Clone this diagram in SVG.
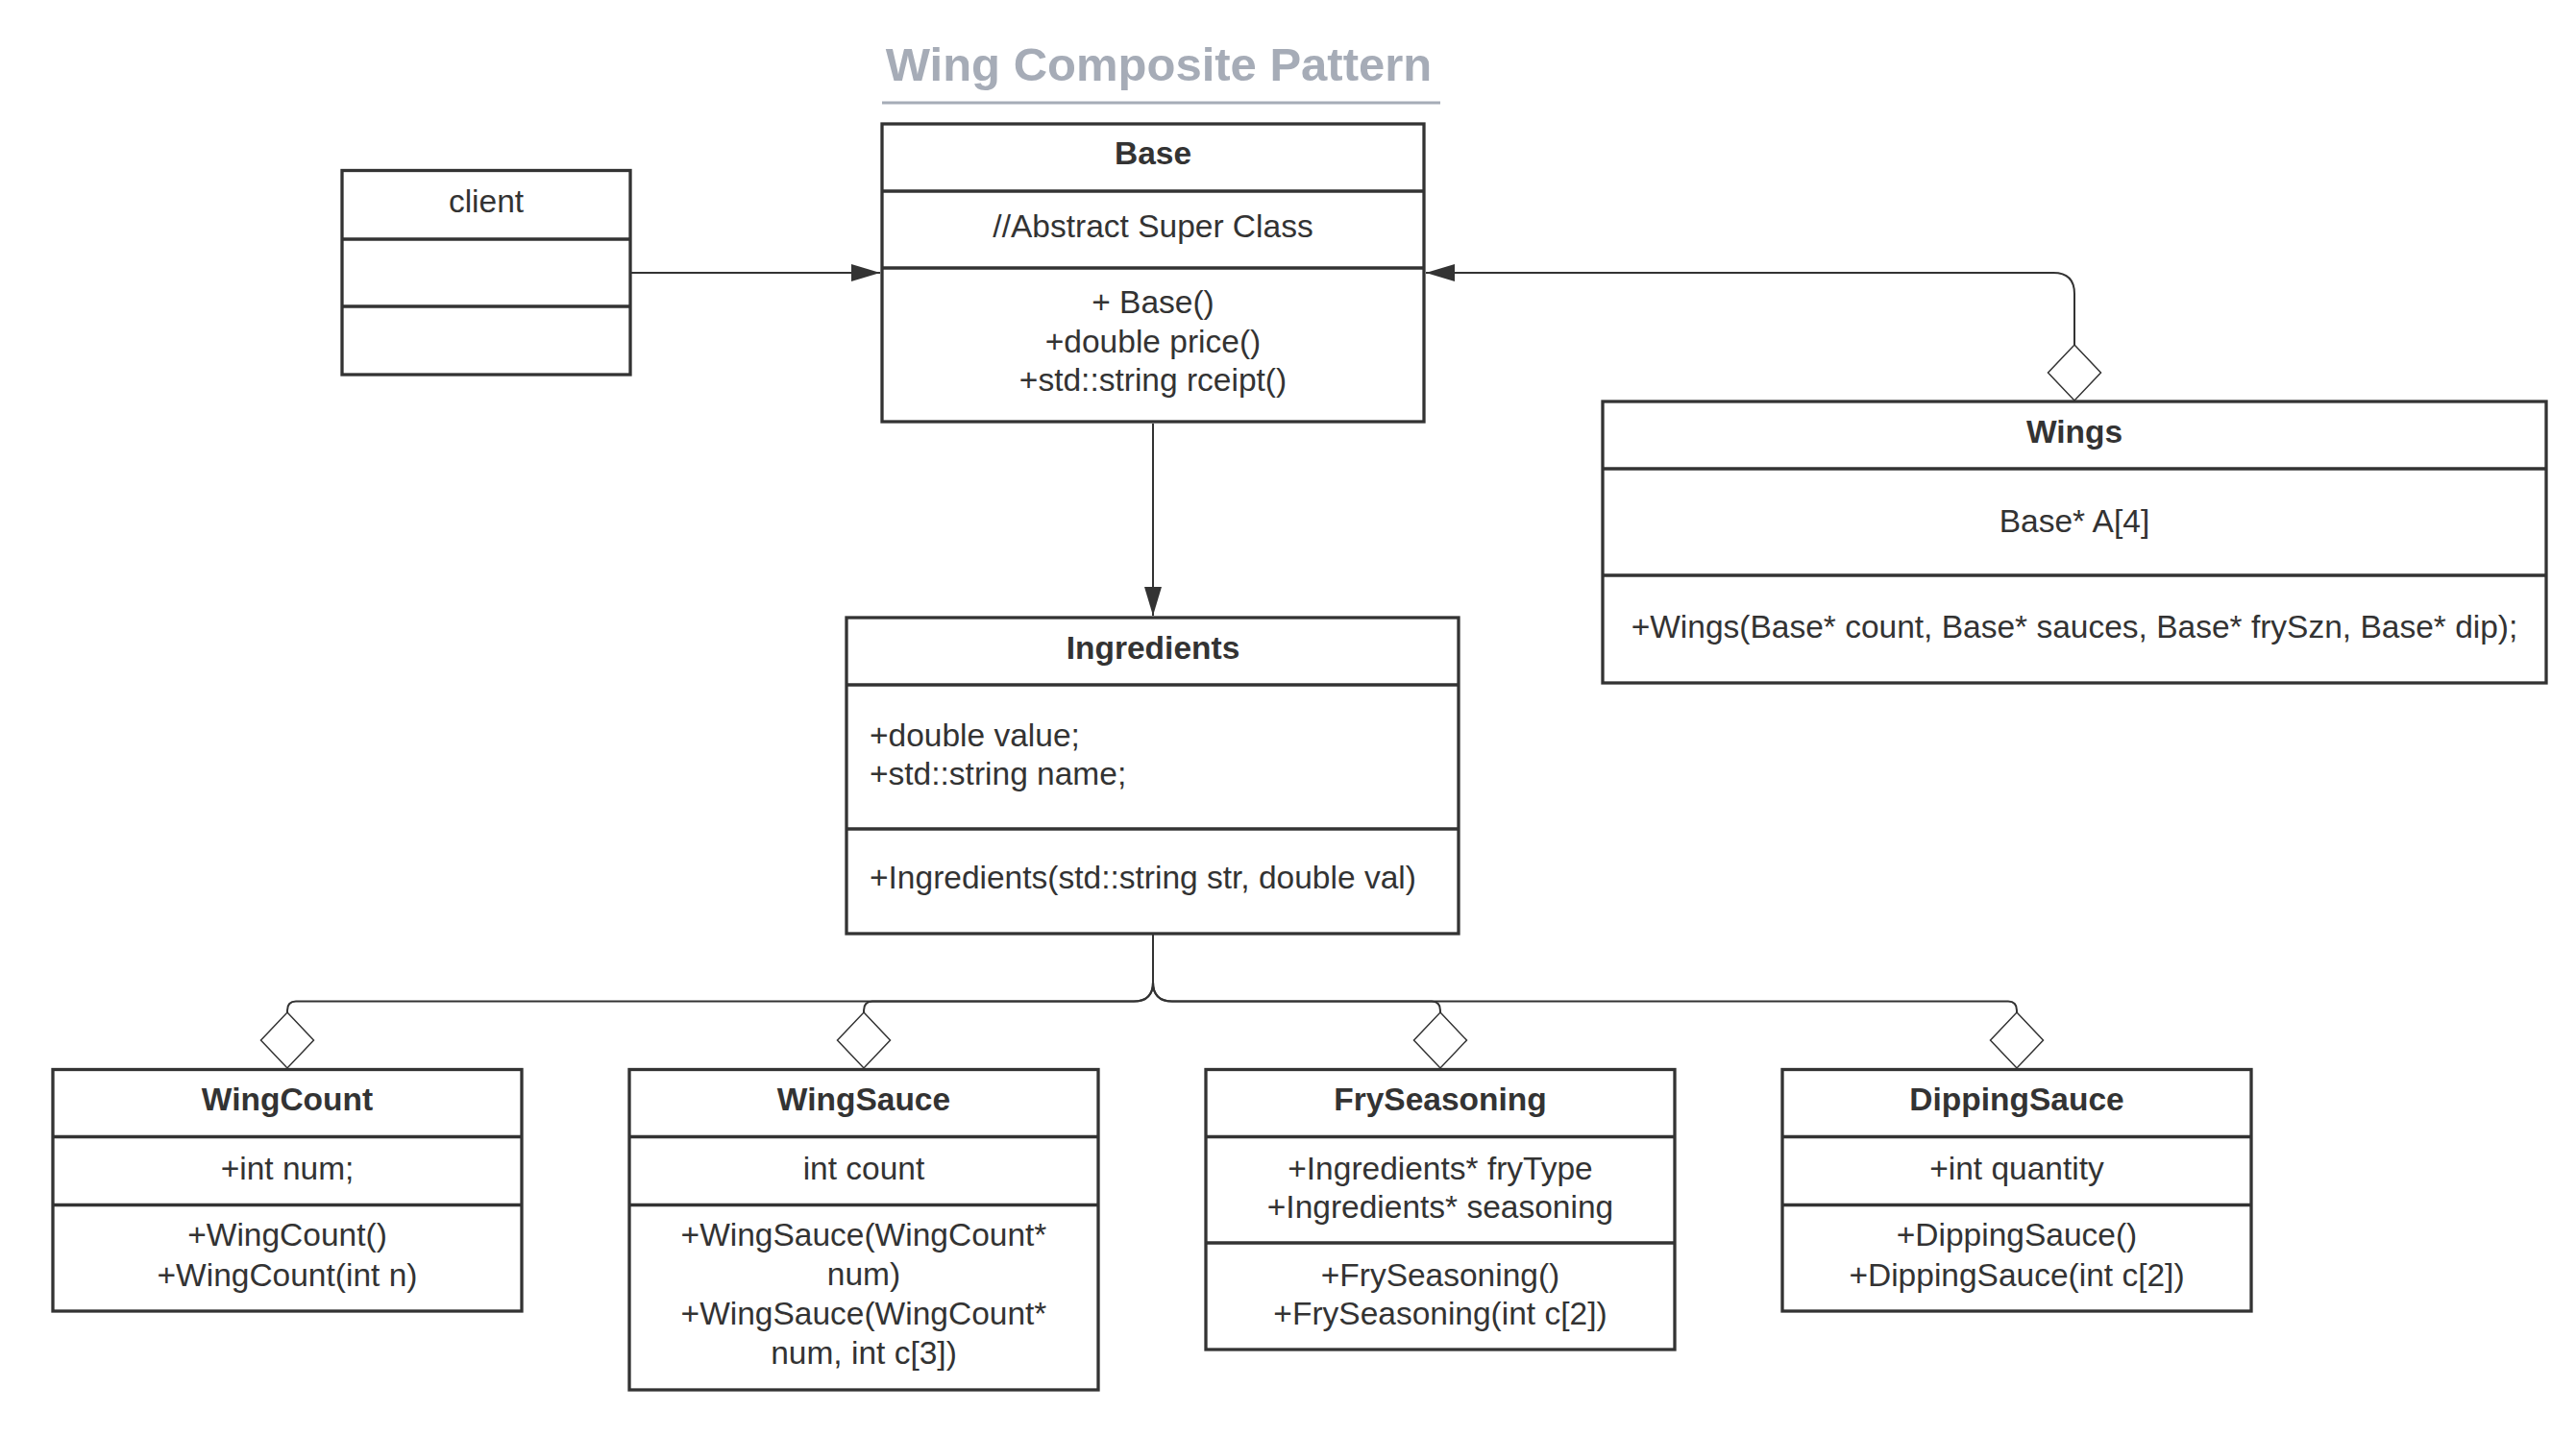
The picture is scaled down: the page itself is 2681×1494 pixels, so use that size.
<svg xmlns="http://www.w3.org/2000/svg" width="2681" height="1494" viewBox="0 0 2681 1494">
<style>
text { font-family: "Liberation Sans", Arial, Helvetica, sans-serif; fill: #333333; font-size: 33.5px; }
.b { font-weight: bold; }
.c { text-anchor: middle; }
.box { fill: #ffffff; stroke: #333333; stroke-width: 3.3; }
.dv { stroke: #333333; stroke-width: 3.3; }
.conn { fill: none; stroke: #333333; stroke-width: 2; }
.title { font-size: 49px; font-weight: bold; fill: #a6acb7; }
</style>
<defs>
<marker id="arrow" markerUnits="userSpaceOnUse" viewBox="0 0 30 18" refX="30" refY="9" markerWidth="30" markerHeight="18" orient="auto">
<path d="M0 0 L30 9 L0 18 Z" fill="#333333"/>
</marker>
<marker id="diamond" markerUnits="userSpaceOnUse" viewBox="0 0 58 55" refX="58" refY="27.5" markerWidth="58" markerHeight="55" orient="auto-start-reverse" overflow="visible">
<path d="M0 27.5 L29 0 L58 27.5 L29 55 Z" fill="#ffffff" stroke="#333333" stroke-width="1.5"/>
</marker>
</defs>
<rect width="2681" height="1494" fill="#ffffff"/>

<g id="title">
<text class="title c" x="1206" y="84">Wing Composite Pattern</text>
<line x1="918" y1="107" x2="1499" y2="107" stroke="#a6acb7" stroke-width="3"/>
</g>

<g id="connectors">
<path class="conn" d="M657 284 H916" marker-end="url(#arrow)"/>
<path class="conn" d="M2159 417 V306 Q2159 284 2137 284 H1484" marker-start="url(#diamond)" marker-end="url(#arrow)"/>
<path class="conn" d="M1200 441 V641" marker-end="url(#arrow)"/>
<path class="conn" d="M1200 972 V1022.5 Q1200 1042.5 1180 1042.5 H308 Q299 1042.5 299 1052 V1112" marker-end="url(#diamond)"/>
<path class="conn" d="M1200 972 V1022.5 Q1200 1042.5 1180 1042.5 H908 Q899 1042.5 899 1052 V1112" marker-end="url(#diamond)"/>
<path class="conn" d="M1200 972 V1022.5 Q1200 1042.5 1220 1042.5 H1490 Q1499 1042.5 1499 1052 V1112" marker-end="url(#diamond)"/>
<path class="conn" d="M1200 972 V1022.5 Q1200 1042.5 1220 1042.5 H2090 Q2099 1042.5 2099 1052 V1112" marker-end="url(#diamond)"/>
</g>

<g id="client">
<rect class="box" x="356" y="177.5" width="300" height="212.5"/>
<line class="dv" x1="356" y1="249" x2="656" y2="249"/>
<line class="dv" x1="356" y1="319" x2="656" y2="319"/>
<text class="c" x="506" y="221">client</text>
</g>

<g id="base">
<rect class="box" x="918" y="129" width="564" height="310"/>
<line class="dv" x1="918" y1="199" x2="1482" y2="199"/>
<line class="dv" x1="918" y1="279" x2="1482" y2="279"/>
<text class="c b" x="1200" y="171">Base</text>
<text class="c" x="1200" y="247">//Abstract Super Class</text>
<text class="c" x="1200" y="326">+ Base()</text>
<text class="c" x="1200" y="367">+double price()</text>
<text class="c" x="1200" y="407">+std::string rceipt()</text>
</g>

<g id="wings">
<rect class="box" x="1668" y="418" width="982" height="293"/>
<line class="dv" x1="1668" y1="488" x2="2650" y2="488"/>
<line class="dv" x1="1668" y1="599" x2="2650" y2="599"/>
<text class="c b" x="2159" y="461">Wings</text>
<text class="c" x="2159" y="554">Base* A[4]</text>
<text class="c" x="2159" y="664">+Wings(Base* count, Base* sauces, Base* frySzn, Base* dip);</text>
</g>

<g id="ingredients">
<rect class="box" x="881" y="643" width="637" height="329"/>
<line class="dv" x1="881" y1="713" x2="1518" y2="713"/>
<line class="dv" x1="881" y1="863" x2="1518" y2="863"/>
<text class="c b" x="1200" y="686">Ingredients</text>
<text x="905" y="777">+double value;</text>
<text x="905" y="817">+std::string name;</text>
<text x="905" y="925">+Ingredients(std::string str, double val)</text>
</g>

<g id="wingcount">
<rect class="box" x="55" y="1113.5" width="488" height="251.5"/>
<line class="dv" x1="55" y1="1183.5" x2="543" y2="1183.5"/>
<line class="dv" x1="55" y1="1254.5" x2="543" y2="1254.5"/>
<text class="c b" x="299" y="1156">WingCount</text>
<text class="c" x="299" y="1228">+int num;</text>
<text class="c" x="299" y="1297">+WingCount()</text>
<text class="c" x="299" y="1339">+WingCount(int n)</text>
</g>

<g id="wingsauce">
<rect class="box" x="655" y="1113.5" width="488" height="333.5"/>
<line class="dv" x1="655" y1="1183.5" x2="1143" y2="1183.5"/>
<line class="dv" x1="655" y1="1254.5" x2="1143" y2="1254.5"/>
<text class="c b" x="899" y="1156">WingSauce</text>
<text class="c" x="899" y="1228">int count</text>
<text class="c" x="899" y="1297">+WingSauce(WingCount*</text>
<text class="c" x="899" y="1338">num)</text>
<text class="c" x="899" y="1379">+WingSauce(WingCount*</text>
<text class="c" x="899" y="1420">num, int c[3])</text>
</g>

<g id="fryseasoning">
<rect class="box" x="1255" y="1113.5" width="488" height="291.5"/>
<line class="dv" x1="1255" y1="1183.5" x2="1743" y2="1183.5"/>
<line class="dv" x1="1255" y1="1294" x2="1743" y2="1294"/>
<text class="c b" x="1499" y="1156">FrySeasoning</text>
<text class="c" x="1499" y="1228">+Ingredients* fryType</text>
<text class="c" x="1499" y="1268">+Ingredients* seasoning</text>
<text class="c" x="1499" y="1339">+FrySeasoning()</text>
<text class="c" x="1499" y="1379">+FrySeasoning(int c[2])</text>
</g>

<g id="dippingsauce">
<rect class="box" x="1855" y="1113.5" width="488" height="251.5"/>
<line class="dv" x1="1855" y1="1183.5" x2="2343" y2="1183.5"/>
<line class="dv" x1="1855" y1="1254.5" x2="2343" y2="1254.5"/>
<text class="c b" x="2099" y="1156">DippingSauce</text>
<text class="c" x="2099" y="1228">+int quantity</text>
<text class="c" x="2099" y="1297">+DippingSauce()</text>
<text class="c" x="2099" y="1339">+DippingSauce(int c[2])</text>
</g>
</svg>
